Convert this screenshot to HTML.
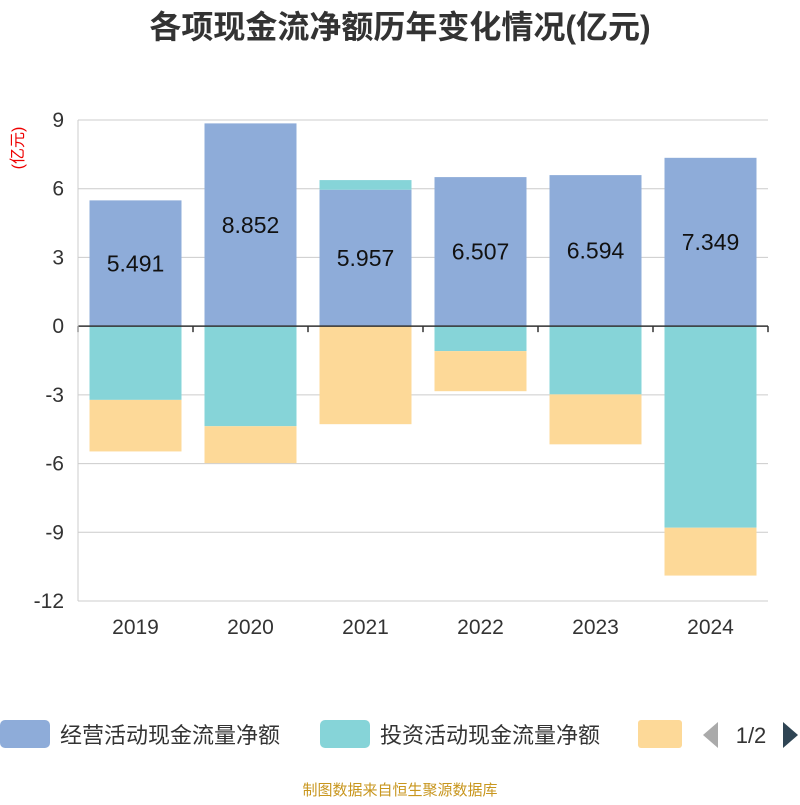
<!DOCTYPE html>
<html><head><meta charset="utf-8"><style>
body{margin:0;background:#fff;width:800px;height:800px;overflow:hidden;font-family:"Liberation Sans","Noto Sans CJK SC",sans-serif}
</style></head><body>
<svg id="c" width="800" height="800" font-family="Liberation Sans, Noto Sans CJK SC, sans-serif">
<text x="400" y="38" text-anchor="middle" font-size="32" font-weight="bold" fill="#333">各项现金流净额历年变化情况(亿元)</text>
<text transform="translate(23,148) rotate(-90)" text-anchor="middle" font-size="16" fill="#e00">(亿元)</text>
<g id="grid"></g><g id="bars"></g><g id="axes"></g>
<g>
<rect x="0" y="720" width="50" height="28" rx="5" fill="#8eacd9"/>
<text x="60" y="743" font-size="22" fill="#333">经营活动现金流量净额</text>
<rect x="320" y="720" width="50" height="28" rx="5" fill="#86d4d8"/>
<text x="380" y="743" font-size="22" fill="#333">投资活动现金流量净额</text>
<rect x="638" y="720" width="44" height="28" rx="3" fill="#fdd998"/>
<polygon points="718,722 718,748 703,735" fill="#aaa"/>
<text x="751" y="743" text-anchor="middle" font-size="22" fill="#333">1/2</text>
<polygon points="783,722 783,748 798,735" fill="#2f4554"/>
</g>
<text x="400" y="795" text-anchor="middle" font-size="15" fill="#c8961e">制图数据来自恒生聚源数据库</text>
</svg>
<script>
const categories=["2019","2020","2021","2022","2023","2024"];
const operating=[5.491,8.852,5.957,6.507,6.594,7.349];
const investing=[-3.22,-4.37,0.42,-1.09,-2.98,-8.8];
const financing=[-2.25,-1.61,-4.28,-1.75,-2.18,-2.09];
const yTicks=[9,6,3,0,-3,-6,-9,-12];
const NS="http://www.w3.org/2000/svg";
const X0=78,X1=768,Y9=120,Ym12=601;
const y=v=>Y9+(9-v)*(Ym12-Y9)/21;
const band=(X1-X0)/categories.length;
const bx=i=>X0+band*i+band/2;
function mk(t,a,p){const e=document.createElementNS(NS,t);for(const k in a)e.setAttribute(k,a[k]);p.appendChild(e);return e;}
const grid=document.getElementById('grid'),bars=document.getElementById('bars'),axes=document.getElementById('axes');
yTicks.forEach(t=>{
 const l=mk('line',{x1:X0,x2:X1,y1:y(t),y2:y(t),stroke:'#ccc','stroke-width':1},grid);
 
 
 const tx=mk('text',{x:X0-14,y:y(t)+7,'text-anchor':'end','font-size':21,fill:'#333'},axes);
 tx.textContent=t;
 
 
});
const bw=92;
const series=[[operating,'#8eacd9','bar-operating'],[investing,'#86d4d8','bar-investing'],[financing,'#fdd998','bar-financing']];
categories.forEach((c,i)=>{
 let pos=0,neg=0;
 series.forEach(([arr,col,nm])=>{
  const v=arr[i];let a,b;
  if(v>=0){a=pos;b=pos+v;pos=b;}else{a=neg;b=neg+v;neg=b;}
  const r=mk('rect',{x:bx(i)-bw/2,y:Math.min(y(a),y(b)),width:bw,height:Math.abs(y(a)-y(b)),fill:col},bars);
  
  
 });
 const lb=mk('text',{x:bx(i),y:y(operating[i]/2)+8,'text-anchor':'middle','font-size':23,fill:'#111'},bars);
 lb.textContent=operating[i].toFixed(3);
 
 
 const xl=mk('text',{x:bx(i),y:634,'text-anchor':'middle','font-size':21,fill:'#333'},axes);
 xl.textContent=c;
 
 
});
const ax=mk('line',{x1:X0,x2:X1,y1:y(0),y2:y(0),stroke:'#333','stroke-width':1.5},axes);


for(let i=0;i<=categories.length;i++){
 const t=mk('line',{x1:X0+band*i,x2:X0+band*i,y1:y(0),y2:y(0)+6,stroke:'#333','stroke-width':1.5},axes);
 
 
}
const ya=mk('line',{x1:X0,x2:X0,y1:Y9,y2:Ym12,stroke:'#ccc','stroke-width':1},axes);


</script>
</body></html>
